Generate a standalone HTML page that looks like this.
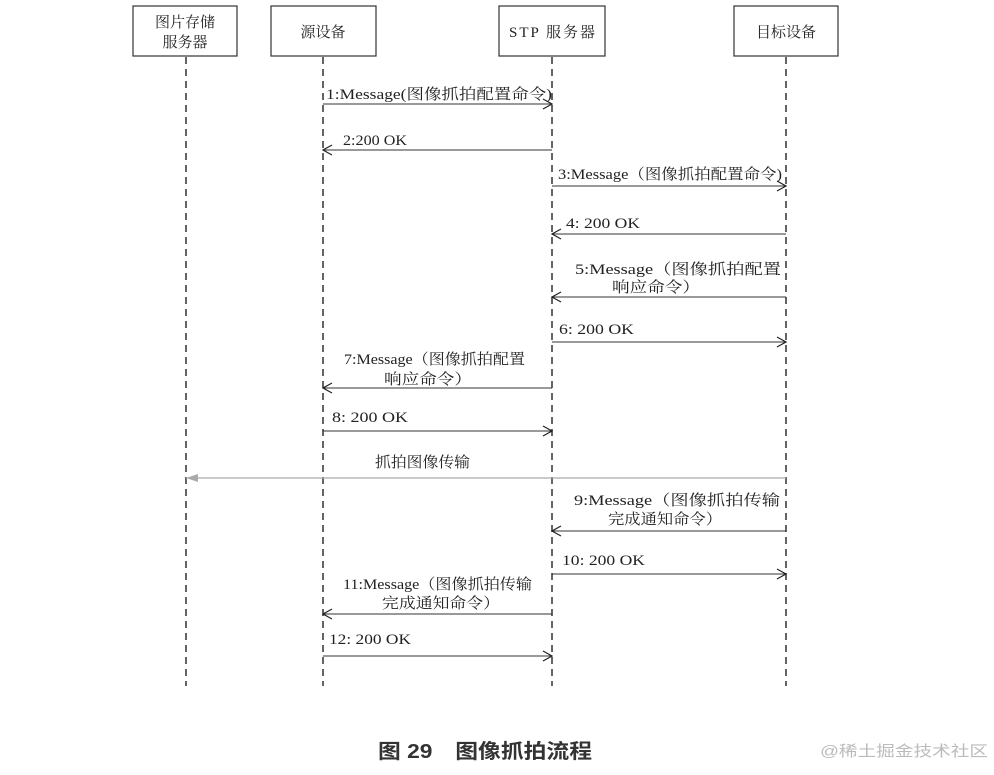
<!DOCTYPE html>
<html><head><meta charset="utf-8"><style>
html,body{margin:0;padding:0;background:#fff}
svg text{font-family:"Liberation Serif","Noto Serif CJK SC",serif;font-size:15px;fill:#222}
</style></head><body>
<svg width="994" height="770" viewBox="0 0 994 770" xmlns="http://www.w3.org/2000/svg">
<defs>
<marker id="a" markerWidth="12" markerHeight="12" refX="10" refY="6" orient="auto" markerUnits="userSpaceOnUse"><path d="M1,1 L10,6 L1,11" fill="none" stroke="#222" stroke-width="1.2"/></marker>
<marker id="g" markerWidth="14" markerHeight="12" refX="1" refY="6" orient="auto" markerUnits="userSpaceOnUse"><path d="M13,2 L1,6 L13,10 Z" fill="#aaa"/></marker>
</defs>
<g fill="#fff" stroke="#333" stroke-width="1.2">
<rect x="133" y="6" width="104" height="50"/>
<rect x="271" y="6" width="105" height="50"/>
<rect x="499" y="6" width="106" height="50"/>
<rect x="734" y="6" width="104" height="50"/>
</g>
<text x="185" y="27" text-anchor="middle">图片存储</text>
<text x="185" y="47" text-anchor="middle">服务器</text>
<text x="323" y="37" text-anchor="middle">源设备</text>
<text x="552" y="37" text-anchor="middle" textLength="86">STP 服务器</text>
<text x="786" y="37" text-anchor="middle" textLength="60">目标设备</text>
<g stroke="#222" stroke-width="1.4" stroke-dasharray="7,5">
<line x1="186" y1="57" x2="186" y2="686"/>
<line x1="323" y1="57" x2="323" y2="686"/>
<line x1="552" y1="57" x2="552" y2="686"/>
<line x1="786" y1="57" x2="786" y2="686"/>
</g>
<g stroke="#333" stroke-width="1.1" marker-end="url(#a)">
<line x1="323" y1="104" x2="552" y2="104"/>
<line x1="552" y1="150" x2="323" y2="150"/>
<line x1="552" y1="186" x2="786" y2="186"/>
<line x1="786" y1="234" x2="552" y2="234"/>
<line x1="786" y1="297" x2="552" y2="297"/>
<line x1="552" y1="342" x2="786" y2="342"/>
<line x1="552" y1="388" x2="323" y2="388"/>
<line x1="323" y1="431" x2="552" y2="431"/>
<line x1="786" y1="531" x2="552" y2="531"/>
<line x1="552" y1="574" x2="786" y2="574"/>
<line x1="552" y1="614" x2="323" y2="614"/>
<line x1="323" y1="656" x2="552" y2="656"/>
</g>
<line x1="786" y1="478" x2="186" y2="478" stroke="#aaa" stroke-width="1.2" marker-start="url(#g)" transform="rotate(180 486 478)"/>
<g>
<text x="326" y="99" textLength="226" lengthAdjust="spacingAndGlyphs">1:Message(图像抓拍配置命令)</text>
<text x="343" y="145" textLength="64" lengthAdjust="spacingAndGlyphs">2:200 OK</text>
<text x="558" y="179" textLength="224" lengthAdjust="spacingAndGlyphs">3:Message（图像抓拍配置命令)</text>
<text x="566" y="228" textLength="74" lengthAdjust="spacingAndGlyphs">4: 200  OK</text>
<text x="575" y="274" textLength="206" lengthAdjust="spacingAndGlyphs">5:Message（图像抓拍配置</text>
<text x="612" y="292" textLength="88" lengthAdjust="spacingAndGlyphs">响应命令）</text>
<text x="559" y="334" textLength="75" lengthAdjust="spacingAndGlyphs">6: 200  OK</text>
<text x="344" y="364" textLength="181" lengthAdjust="spacingAndGlyphs">7:Message（图像抓拍配置</text>
<text x="384" y="384" textLength="88" lengthAdjust="spacingAndGlyphs">响应命令）</text>
<text x="332" y="422" textLength="76" lengthAdjust="spacingAndGlyphs">8: 200  OK</text>
<text x="375" y="467" textLength="95" lengthAdjust="spacingAndGlyphs">抓拍图像传输</text>
<text x="574" y="505" textLength="206" lengthAdjust="spacingAndGlyphs">9:Message（图像抓拍传输</text>
<text x="608" y="524" textLength="114" lengthAdjust="spacingAndGlyphs">完成通知命令）</text>
<text x="562" y="565" textLength="83" lengthAdjust="spacingAndGlyphs">10: 200  OK</text>
<text x="343" y="589" textLength="189" lengthAdjust="spacingAndGlyphs">11:Message（图像抓拍传输</text>
<text x="382" y="608" textLength="118" lengthAdjust="spacingAndGlyphs">完成通知命令）</text>
<text x="329" y="644" textLength="82" lengthAdjust="spacingAndGlyphs">12: 200  OK</text>
</g>
<text x="378" y="758" textLength="214" lengthAdjust="spacingAndGlyphs" style="font-family:'Liberation Sans','Noto Sans CJK SC',sans-serif;font-size:20px;font-weight:bold;fill:#333">图 29　图像抓拍流程</text>
<text x="820" y="756" textLength="168" lengthAdjust="spacingAndGlyphs" style="font-family:'Liberation Sans','Noto Sans CJK SC',sans-serif;font-size:15px;fill:#bbb">@稀土掘金技术社区</text>
</svg>
</body></html>
